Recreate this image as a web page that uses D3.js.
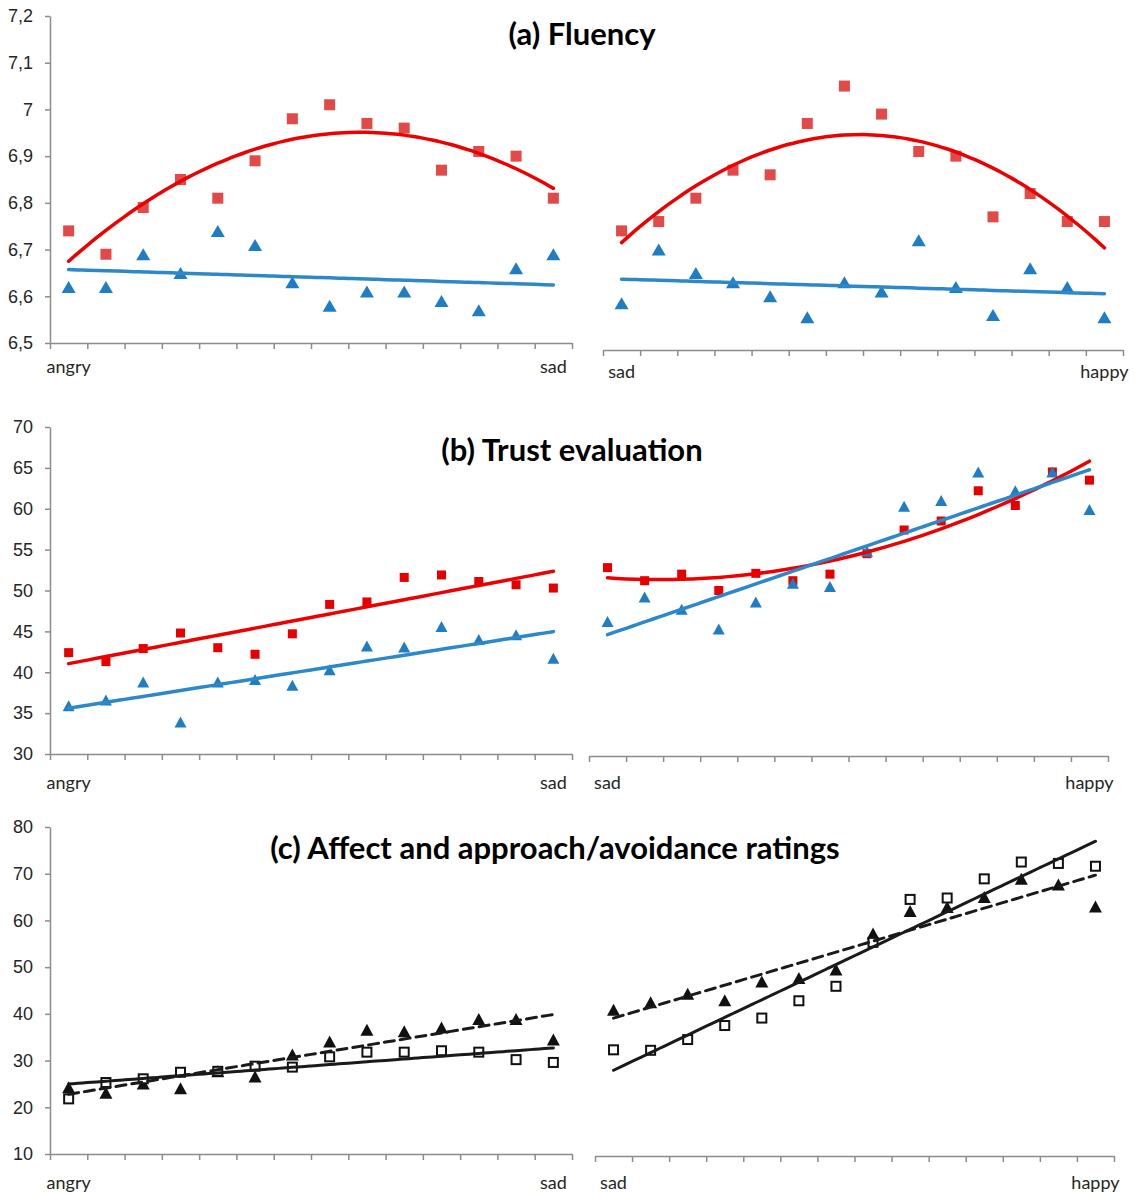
<!DOCTYPE html>
<html>
<head>
<meta charset="utf-8">
<script src="https://cdn.jsdelivr.net/npm/d3@7"></script>
<style>
  body { margin: 0; background: #fff; }
  svg { display: block; font-family: Lato, "Open Sans", sans-serif; }
</style>
</head>
<body>
<svg id="chart" width="1135" height="1194"></svg>
<script>
// morph steps along each continuum (14 faces)
const steps = [1, 2, 3, 4, 5, 6, 7, 8, 9, 10, 11, 12, 13, 14];

const fluencyTicks = [6.5, 6.6, 6.7, 6.8, 6.9, 7, 7.1, 7.2];
const trustTicks = [30, 35, 40, 45, 50, 55, 60, 65, 70];
const affectTicks = [10, 20, 30, 40, 50, 60, 70, 80];

// (a) fluency
const fluencyAngrySadRed  = [6.74, 6.69, 6.79, 6.85, 6.81, 6.89, 6.98, 7.01, 6.97, 6.96, 6.87, 6.91, 6.90, 6.81];
const fluencyAngrySadBlue = [6.62, 6.62, 6.69, 6.65, 6.74, 6.71, 6.63, 6.58, 6.61, 6.61, 6.59, 6.57, 6.66, 6.69];
const fluencySadHappyRed  = [6.74, 6.76, 6.81, 6.87, 6.86, 6.97, 7.05, 6.99, 6.91, 6.90, 6.77, 6.82, 6.76, 6.76];
const fluencySadHappyBlue = [6.585, 6.70, 6.65, 6.63, 6.60, 6.555, 6.63, 6.61, 6.72, 6.62, 6.56, 6.66, 6.62, 6.555];

// (b) trust evaluation
const trustAngrySadRed  = [42.4, 41.3, 42.9, 44.8, 43.0, 42.2, 44.7, 48.3, 48.6, 51.6, 51.9, 51.1, 50.7, 50.3];
const trustAngrySadBlue = [35.9, 36.6, 38.8, 33.9, 38.8, 39.1, 38.4, 40.3, 43.2, 43.1, 45.6, 44.0, 44.6, 41.7];
const trustSadHappyRed  = [52.8, 51.2, 52.0, 50.0, 52.1, 51.2, 52.0, 54.5, 57.4, 58.5, 62.2, 60.4, 64.5, 63.5];
const trustSadHappyBlue = [46.2, 49.2, 47.7, 45.3, 48.6, 50.9, 50.5, 54.8, 60.3, 61.0, 64.5, 62.2, 64.5, 59.9];

// (c) affect (open squares) and approach/avoidance (filled triangles)
const affectAngrySadSquares   = [21.8, 25.3, 26.1, 27.5, 27.7, 28.8, 28.6, 30.8, 31.8, 31.8, 32.1, 31.8, 30.2, 29.6];
const affectAngrySadTriangles = [24.3, 23.1, 25.1, 24.1, 27.7, 26.6, 31.3, 34.1, 36.6, 36.3, 37.1, 38.9, 38.9, 34.5];
const affectSadHappySquares   = [32.3, 32.2, 34.5, 37.5, 39.1, 42.8, 45.9, 55.3, 64.5, 64.8, 68.9, 72.5, 72.2, 71.6];
const affectSadHappyTriangles = [40.9, 42.5, 44.3, 42.9, 46.9, 47.7, 49.5, 57.2, 62.0, 62.9, 65.0, 68.9, 67.7, 63.0];

const commaFormat = d => String(d).replace(".", ",");

// least squares polynomial trendline (Excel style)
function polyFit(xs, ys, degree) {
  const n = degree + 1;
  const A = [], b = [];
  for (let r = 0; r < n; r++) {
    A.push([]);
    for (let c = 0; c < n; c++) A[r].push(d3.sum(xs, x => Math.pow(x, r + c)));
    b.push(d3.sum(xs, (x, i) => Math.pow(x, r) * ys[i]));
  }
  for (let i = 0; i < n; i++) {
    for (let k = i + 1; k < n; k++) {
      const f = A[k][i] / A[i][i];
      for (let j = i; j < n; j++) A[k][j] -= f * A[i][j];
      b[k] -= f * b[i];
    }
  }
  const coef = new Array(n).fill(0);
  for (let i = n - 1; i >= 0; i--) {
    let s = b[i];
    for (let j = i + 1; j < n; j++) s -= A[i][j] * coef[j];
    coef[i] = s / A[i][i];
  }
  return x => coef.reduce((acc, c, i) => acc + c * Math.pow(x, i), 0);
}

const RED_SQ_A = "#e24a4a", RED_SQ_B = "#e60000", BLUE_TRI = "#1f7dc4";
const RED_LINE = "#ee0000", BLUE_LINE = "#2d88c9";

const redSq = (v, fill, size, deg) => ({ values: v, marker: "square", fill: fill, stroke: "none", size: size, degree: deg, line: RED_LINE, width: 3.5 });
const blueTri = (v, w, h, deg) => ({ values: v, marker: "triangle", fill: BLUE_TRI, w: w, h: h, degree: deg, line: BLUE_LINE, width: 3.5 });
const openSq = v => ({ values: v, marker: "square", fill: "#fff", stroke: "#111", size: 9, degree: 1, line: "#1a1a1a", width: 3 });
const blackTri = v => ({ values: v, marker: "triangle", fill: "#111", w: 13, h: 12, degree: 1, line: "#1a1a1a", width: 3, dash: "10,6" });

const panels = [
  {
    title: "(a) Fluency", titleX: 582, titleY: 45,
    ticks: fluencyTicks, format: commaFormat, yRange: [343, 16],
    halves: [
      { x0: 50, x1: 572, axisY: 343, labelY: 367, labels: ["angry", "sad"], yAxis: true,
        series: [blueTri(fluencyAngrySadBlue, 14, 12, 1), redSq(fluencyAngrySadRed, RED_SQ_A, 11, 2)] },
      { x0: 603, x1: 1123, axisY: 350, labelY: 372, labels: ["sad", "happy"],
        series: [blueTri(fluencySadHappyBlue, 14, 12, 1), redSq(fluencySadHappyRed, RED_SQ_A, 11, 2)] }
    ]
  },
  {
    title: "(b) Trust evaluation", titleX: 572, titleY: 461,
    ticks: trustTicks, format: d => d, yRange: [754, 427],
    halves: [
      { x0: 50, x1: 572, axisY: 754, labelY: 783, labels: ["angry", "sad"], yAxis: true,
        series: [redSq(trustAngrySadRed, RED_SQ_B, 9, 1), blueTri(trustAngrySadBlue, 12, 11, 1)] },
      { x0: 589, x1: 1108, axisY: 756, labelY: 783, labels: ["sad", "happy"],
        series: [redSq(trustSadHappyRed, RED_SQ_B, 9, 2), blueTri(trustSadHappyBlue, 12, 11, 1)] }
    ]
  },
  {
    title: "(c) Affect and approach/avoidance ratings", titleX: 555, titleY: 859,
    ticks: affectTicks, format: d => d, yRange: [1154, 827],
    halves: [
      { x0: 50, x1: 572, axisY: 1154, labelY: 1183, labels: ["angry", "sad"], yAxis: true,
        series: [blackTri(affectAngrySadTriangles), openSq(affectAngrySadSquares)] },
      { x0: 595, x1: 1114, axisY: 1156, labelY: 1183, labels: ["sad", "happy"],
        series: [blackTri(affectSadHappyTriangles), openSq(affectSadHappySquares)] }
    ]
  }
];

const svg = d3.select("#chart");

panels.forEach(p => {
  const y = d3.scaleLinear().domain(d3.extent(p.ticks)).range(p.yRange);

  svg.append("text")
    .attr("x", p.titleX).attr("y", p.titleY)
    .attr("text-anchor", "middle")
    .attr("font-size", 31).attr("font-weight", "bold")
    .attr("fill", "#000")
    .text(p.title);

  p.halves.forEach(h => {
    const x = d3.scaleLinear().domain([0.5, steps.length + 0.5]).range([h.x0, h.x1]);
    const g = svg.append("g");

    if (h.yAxis) {
      const ay = g.append("g")
        .attr("transform", `translate(${h.x0},0)`)
        .call(d3.axisLeft(y).tickValues(p.ticks).tickFormat(p.format).tickSize(5).tickSizeOuter(0).tickPadding(12));
      ay.selectAll("line, path").attr("stroke", "#8c8c8c").attr("stroke-width", 1.5);
      ay.selectAll("text").attr("font-size", 18).attr("fill", "#262626").attr("font-family", null);
    }

    const ax = g.append("g")
      .attr("transform", `translate(0,${h.axisY})`)
      .call(d3.axisBottom(x).tickValues(d3.range(0.5, steps.length + 1, 1)).tickFormat("").tickSize(6).tickSizeOuter(0));
    ax.selectAll("line, path").attr("stroke", "#8c8c8c").attr("stroke-width", 1.5);

    g.selectAll(".end-label")
      .data([steps[0], steps[steps.length - 1]])
      .join("text")
      .attr("x", d => x(d)).attr("y", h.labelY)
      .attr("dy", "0.35em")
      .attr("text-anchor", "middle")
      .attr("font-size", 18).attr("fill", "#262626")
      .text((d, i) => h.labels[i]);

    // markers first, trendlines on top
    h.series.forEach(s => {
      const pts = steps.map((st, i) => ({ x: st, v: s.values[i] }));
      if (s.marker === "square") {
        g.append("g").selectAll("rect")
          .data(pts).join("rect")
          .attr("x", d => x(d.x) - s.size / 2)
          .attr("y", d => y(d.v) - s.size / 2)
          .attr("width", s.size).attr("height", s.size)
          .attr("fill", s.fill)
          .attr("stroke", s.stroke)
          .attr("stroke-width", 2);
      } else {
        g.append("g").selectAll("path")
          .data(pts).join("path")
          .attr("transform", d => `translate(${x(d.x)},${y(d.v)})`)
          .attr("d", `M0,${-s.h / 2}L${s.w / 2},${s.h / 2}L${-s.w / 2},${s.h / 2}Z`)
          .attr("fill", s.fill);
      }
    });

    h.series.forEach(s => {
      const f = polyFit(steps, s.values, s.degree);
      const xs = d3.range(steps[0], steps[steps.length - 1] + 0.001, 0.25);
      g.append("path")
        .datum(xs)
        .attr("fill", "none")
        .attr("stroke", s.line)
        .attr("stroke-width", s.width)
        .attr("stroke-linecap", "round")
        .attr("stroke-dasharray", s.dash || null)
        .attr("d", d3.line().x(d => x(d)).y(d => y(f(d))).curve(d3.curveMonotoneX));
    });
  });
});
</script>
</body>
</html>
